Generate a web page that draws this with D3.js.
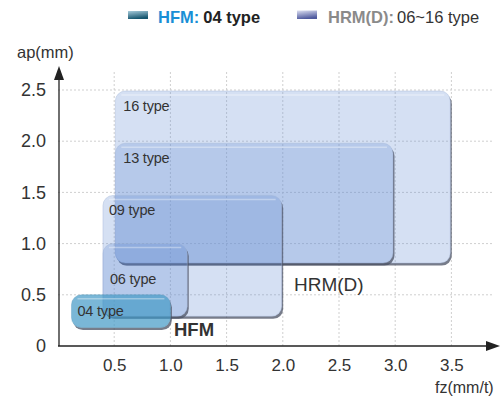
<!DOCTYPE html>
<html><head><meta charset="utf-8">
<script src="https://cdn.jsdelivr.net/npm/d3@7/dist/d3.min.js"></script>
<style>
body{margin:0;background:#fff;}
svg{display:block;font-family:"Liberation Sans",Arial,Helvetica,sans-serif;}
</style></head>
<body><svg id="c" width="504" height="403"></svg>
<script>
// ---- data ----
const boxNames  = ["16 type","13 type","09 type","06 type","04 type"];
const boxSeries = ["HRM(D)","HRM(D)","HRM(D)","HRM(D)","HFM"];
const fzMin = [0.51, 0.51, 0.40, 0.40, 0.12];
const fzMax = [3.49, 2.98, 1.99, 1.15, 1.00];
const apMin = [0.81, 0.81, 0.29, 0.29, 0.18];
const apMax = [2.49, 1.98, 1.47, 1.00, 0.50];
const xTicks = [0.5, 1.0, 1.5, 2.0, 2.5, 3.0, 3.5];
const yTicks = [0, 0.5, 1.0, 1.5, 2.0, 2.5];
const legendSeries = ["HFM:", "HRM(D):"];
const legendDesc = ["04 type", "06~16 type"];

const svg = d3.select("#c");
const x = d3.scaleLinear().domain([0, 3.5]).range([58, 451.4]);
const y = d3.scaleLinear().domain([0, 2.5]).range([346, 90]);

const defs = svg.append("defs");
const g1 = defs.append("linearGradient").attr("id","gHFM").attr("x1",0).attr("y1",0).attr("x2",0.3).attr("y2",1);
g1.append("stop").attr("offset","0%").attr("stop-color","#a8ccdc");
g1.append("stop").attr("offset","100%").attr("stop-color","#16566f");
const g2 = defs.append("linearGradient").attr("id","gHRM").attr("x1",0).attr("y1",0).attr("x2",0.3).attr("y2",1);
g2.append("stop").attr("offset","0%").attr("stop-color","#dde0f2");
g2.append("stop").attr("offset","100%").attr("stop-color","#4f5a9e");

// grid
const grid = svg.append("g");
grid.selectAll(".vg").data(xTicks).join("line")
  .attr("x1", d=>x(d)).attr("x2", d=>x(d)).attr("y1", 72).attr("y2", y(0))
  .attr("stroke","#cfcfcf").attr("stroke-dasharray","2,2");
grid.selectAll(".hg").data(yTicks.filter(d=>d>0)).join("line")
  .attr("x1", x(0)).attr("x2", 494).attr("y1", d=>y(d)).attr("y2", d=>y(d))
  .attr("stroke","#cfcfcf").attr("stroke-dasharray","2,2");

// boxes
const boxes = boxNames.map((n,i)=>({name:n, series:boxSeries[i], x0:fzMin[i], x1:fzMax[i], y0:apMin[i], y1:apMax[i], i}));
const R = 10;
boxes.forEach(b=>{
  const bx = x(b.x0), by = y(b.y1), bw = x(b.x1)-x(b.x0), bh = y(b.y0)-y(b.y1);
  const m = defs.append("mask").attr("id","m"+b.i).attr("maskUnits","userSpaceOnUse")
    .attr("x",0).attr("y",0).attr("width",504).attr("height",403);
  m.append("rect").attr("width",504).attr("height",403).attr("fill","#fff");
  m.append("rect").attr("x",bx).attr("y",by).attr("width",bw).attr("height",bh).attr("rx",R).attr("fill","#000");
  const g = svg.append("g");
  g.append("rect").attr("x",bx+1.5).attr("y",by+2.5).attr("width",bw).attr("height",bh).attr("rx",R)
    .attr("fill","#4a5163").attr("opacity",0.75).attr("mask","url(#m"+b.i+")");
  const hfm = b.series==="HFM";
  g.append("rect").attr("x",bx).attr("y",by).attr("width",bw).attr("height",bh).attr("rx",R)
    .attr("fill", hfm ? "rgb(70,155,200)" : "rgb(100,140,210)")
    .attr("fill-opacity", hfm ? 0.72 : 0.27)
    .attr("stroke", hfm ? "#5a9cbf" : "#9fb3d8").attr("stroke-opacity",0.5).attr("stroke-width",0.8);
  g.append("line").attr("x1",bx+6).attr("x2",bx+bw-6).attr("y1",by+4).attr("y2",by+4)
    .attr("stroke","#fff").attr("stroke-opacity",0.35).attr("stroke-width",1.5);
});
// box labels
const labOff = [20, 20, 20, 40, 21];
const labDx = [8, 8, 6, 7, 6];
svg.selectAll(".bl").data(boxes).join("text")
  .attr("x", d=>x(d.x0)+labDx[d.i]).attr("y", d=>y(d.y1)+labOff[d.i])
  .attr("font-size",14.5).attr("fill","#333").attr("letter-spacing","-0.2")
  .text(d=>d.name);

// series labels
svg.append("text").attr("x",294).attr("y",291).attr("font-size",19).attr("fill","#333").text("HRM(D)");
svg.append("text").attr("x",174).attr("y",336).attr("font-size",18.5).attr("font-weight","bold").attr("fill","#333").text("HFM");

// axes
const xAxis = d3.axisBottom(x).tickValues(xTicks).tickSize(0).tickPadding(13).tickFormat(d3.format(".1f"));
const xa = svg.append("g").attr("transform",`translate(0,${y(0)})`).call(xAxis).attr("font-family",null).attr("font-size",null);
xa.select(".domain").remove();
xa.selectAll("text").attr("font-size",17).attr("fill","#333");
const yAxis = d3.axisLeft(y).tickValues(yTicks).tickSize(0).tickPadding(12).tickFormat(d=>d===0?"0":d3.format(".1f")(d));
const ya = svg.append("g").attr("transform",`translate(${x(0)},0)`).call(yAxis).attr("font-family",null).attr("font-size",null);
ya.select(".domain").remove();
ya.selectAll("text").attr("font-size",18).attr("fill","#333");

svg.append("line").attr("x1",x(0)).attr("x2",490).attr("y1",y(0)).attr("y2",y(0)).attr("stroke","#222").attr("stroke-width",1.3);
svg.append("path").attr("d",`M500,${y(0)} L486,${y(0)-5} L486,${y(0)+5} Z`).attr("fill","#222");
svg.append("line").attr("x1",x(0)+1).attr("x2",x(0)+1).attr("y1",y(0)).attr("y2",78).attr("stroke","#222").attr("stroke-width",1.3);
svg.append("path").attr("d",`M${x(0)+1},66 L${x(0)-4},80 L${x(0)+6},80 Z`).attr("fill","#222");

svg.append("text").attr("x",17).attr("y",58).attr("font-size",16.5).attr("fill","#333").text("ap(mm)");
svg.append("text").attr("x",435).attr("y",393).attr("font-size",16).attr("fill","#333").text("fz(mm/t)");

// legend
const lg = svg.append("g");
lg.append("rect").attr("x",128).attr("y",11).attr("width",20).attr("height",8).attr("fill","url(#gHFM)");
lg.append("rect").attr("x",297).attr("y",10.5).attr("width",20).attr("height",8.5).attr("fill","url(#gHRM)");
const t1 = lg.append("text").attr("x",158).attr("y",22.5).attr("font-size",16.5).attr("font-weight","bold");
t1.append("tspan").attr("fill","#1a8fd6").text(legendSeries[0]);
t1.append("tspan").attr("fill","#222").attr("dx",4).text(legendDesc[0]);
const t2 = lg.append("text").attr("x",328).attr("y",22.5).attr("font-size",16.5);
t2.append("tspan").attr("fill","#8a8a8a").attr("font-weight","bold").text(legendSeries[1]);
t2.append("tspan").attr("fill","#333").attr("dx",3).text(legendDesc[1]);
</script></body></html>
